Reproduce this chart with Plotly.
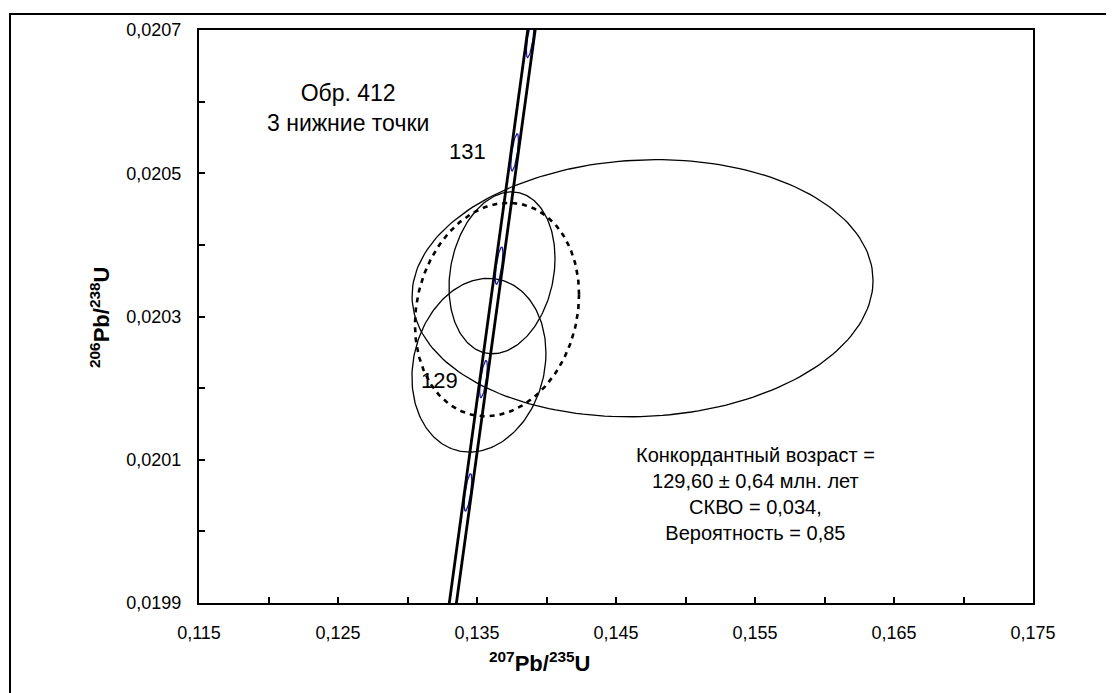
import numpy as np
import plotly.graph_objects as go

# Decay constants (1/yr) and concordia band relative half-width
LAMBDA_238 = 1.55125e-10
LAMBDA_235 = 9.8485e-10
BAND_REL = 0.0018

# Concordia age range drawn (Ma) and age markers (Ma)
conc_age_min, conc_age_max = 126.5, 132.8
marker_ages = [128, 129, 130, 131, 132]
marker_half_len_ma = 0.165
marker_half_w = 0.0002

# Age labels
age_label_text = ["131", "129"]
age_label_x = [0.13435, 0.13230]
age_label_y = [0.020530, 0.020211]

# Analysis error ellipses (centre, half-extent x/y, correlation)
ell_cx = [0.13680, 0.13514, 0.14691]
ell_cy = [0.020361, 0.020232, 0.0203395]
ell_hx = [0.003813, 0.00482, 0.016583]
ell_hy = [0.000113, 0.0001213, 0.0001795]
ell_rho = [0.18, 0.14, 0.06]

# Concordia-age ellipse (dashed)
conc_cx, conc_cy = 0.13644, 0.0203097
conc_hx, conc_hy, conc_rho = 0.0059, 0.000149, 0.14

# Axis ticks
x_tickvals = [0.115, 0.12, 0.125, 0.13, 0.135, 0.14, 0.145, 0.15, 0.155, 0.16, 0.165, 0.17, 0.175]
x_ticktext = ["0,115", "", "0,125", "", "0,135", "", "0,145", "", "0,155", "", "0,165", "", "0,175"]
y_tickvals = [0.0199, 0.0200, 0.0201, 0.0202, 0.0203, 0.0204, 0.0205, 0.0206, 0.0207]
y_ticktext = ["0,0199", "", "0,0201", "", "0,0203", "", "0,0205", "", "0,0207"]

title_text = "Обр. 412<br>3 нижние точки"
stats_text = ("Конкордантный возраст =<br>129,60 ± 0,64 млн. лет<br>"
              "СКВО = 0,034,<br>Вероятность = 0,85")

FONT = "Liberation Sans, Arial, sans-serif"

# page body offset (browser default margin) and plot-area pixel geometry
OFF = 8
PL, PT, PW, PH = 199, 26, 834, 577


def px_to_paper(px, py):
    return (px - PL) / PW, (PT + PH - py) / PH


def ellipse(cx, cy, hx, hy, rho, n=200):
    t = np.linspace(0, 2 * np.pi, n)
    x = cx + hx * np.cos(t)
    y = cy + hy * (rho * np.cos(t) + np.sqrt(1 - rho ** 2) * np.sin(t))
    return x, y


def concordia(age_ma, l235=LAMBDA_235):
    t = np.asarray(age_ma) * 1e6
    return np.exp(l235 * t) - 1, np.exp(LAMBDA_238 * t) - 1


fig = go.Figure()

for cx, cy, hx, hy, r in zip(ell_cx, ell_cy, ell_hx, ell_hy, ell_rho):
    ex, ey = ellipse(cx, cy, hx, hy, r)
    fig.add_trace(go.Scatter(x=ex, y=ey, mode="lines",
                             line=dict(color="black", width=1.3),
                             hoverinfo="skip", showlegend=False))

ex, ey = ellipse(conc_cx, conc_cy, conc_hx, conc_hy, conc_rho)
fig.add_trace(go.Scatter(x=ex, y=ey, mode="lines",
                         line=dict(color="black", width=2.6, dash="5px,5px"),
                         hoverinfo="skip", showlegend=False))

# age marker ellipses (blue)
for a in marker_ages:
    x0, y0 = concordia(a)
    t = a * 1e6
    dxdt = LAMBDA_235 * np.exp(LAMBDA_235 * t) * 1e6
    dydt = LAMBDA_238 * np.exp(LAMBDA_238 * t) * 1e6
    th = np.linspace(0, 2 * np.pi, 100)
    mx = x0 + marker_half_len_ma * dxdt * np.cos(th) + marker_half_w * np.sin(th)
    my = y0 + marker_half_len_ma * dydt * np.cos(th)
    fig.add_trace(go.Scatter(x=mx, y=my, mode="lines",
                             line=dict(color="#1010a0", width=1.2),
                             hoverinfo="skip", showlegend=False))

ages = np.linspace(conc_age_min, conc_age_max, 200)
for sgn in (-1, 1):
    cxs, cys = concordia(ages, LAMBDA_235 * (1 + sgn * BAND_REL))
    fig.add_trace(go.Scatter(x=cxs, y=cys, mode="lines",
                             line=dict(color="black", width=2.8),
                             hoverinfo="skip", showlegend=False))

for txt, x, y in zip(age_label_text, age_label_x, age_label_y):
    fig.add_annotation(x=x, y=y, text=txt, showarrow=False,
                       xanchor="center", yanchor="middle",
                       font=dict(family=FONT, size=22, color="black"))

fig.add_annotation(x=0.12572, y=0.0205912, text=title_text, showarrow=False,
                   xanchor="center", yanchor="middle",
                   font=dict(family=FONT, size=23, color="black"))
fig.add_annotation(x=0.15507, y=0.020052, text=stats_text, showarrow=False,
                   xanchor="center", yanchor="middle",
                   font=dict(family=FONT, size=20, color="black"))

# axis titles
xt_x, xt_y = px_to_paper(540, 662)
fig.add_annotation(xref="paper", yref="paper", x=xt_x, y=xt_y,
                   xanchor="center", yanchor="middle",
                   text="<b><sup>207</sup>Pb/<sup>235</sup>U</b>", showarrow=False,
                   font=dict(family=FONT, size=22, color="black"))
yt_x, yt_y = px_to_paper(100, 315)
fig.add_annotation(xref="paper", yref="paper", x=yt_x, y=yt_y,
                   xanchor="center", yanchor="middle",
                   text="<b><sup>206</sup>Pb/<sup>238</sup>U</b>", showarrow=False,
                   textangle=-90,
                   font=dict(family=FONT, size=22, color="black"))

# outer frame
fx0, fy0 = px_to_paper(10, 720)
fx1, fy1 = px_to_paper(1112, 10)
fig.add_shape(type="rect", xref="paper", yref="paper",
              x0=fx0, x1=fx1, y0=fy0, y1=fy1,
              line=dict(color="black", width=2))

fig.update_xaxes(range=[0.115, 0.175], tickvals=x_tickvals, ticktext=x_ticktext,
                 ticks="inside", ticklen=6, tickwidth=1.5, tickcolor="black",
                 showline=True, linecolor="black", linewidth=2, mirror=True,
                 showgrid=False, zeroline=False, ticklabelstandoff=12,
                 tickfont=dict(family=FONT, size=18, color="black"))
fig.update_yaxes(range=[0.0199, 0.0207], tickvals=y_tickvals, ticktext=y_ticktext,
                 ticks="inside", ticklen=6, tickwidth=1.5, tickcolor="black",
                 showline=True, linecolor="black", linewidth=2, mirror=True,
                 showgrid=False, zeroline=False, ticklabelstandoff=12,
                 tickfont=dict(family=FONT, size=18, color="black"))

fig.update_layout(width=1114 - OFF, height=693 - OFF,
                  margin=dict(l=PL - OFF, r=1114 - PL - PW, t=PT - OFF,
                              b=693 - PT - PH),
                  plot_bgcolor="white", paper_bgcolor="white",
                  showlegend=False)

fig.write_html("out.html")
